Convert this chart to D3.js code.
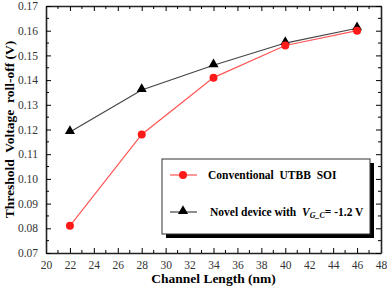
<!DOCTYPE html>
<html lang="en">
<head>
<meta charset="UTF-8">
<title>Threshold Voltage roll-off</title>
<script src="https://d3js.org/d3.v7.min.js"></script>
<style>
  body { margin: 0; background: #fff; }
  text { font-family: "Liberation Serif", "Times New Roman", serif; }
</style>
</head>
<body>
<div id="chart"></div>
<script>
// data
var channelLength = [22, 28, 34, 40, 46];
var conventional = [0.081, 0.118, 0.141, 0.154, 0.160];
var novel = [0.119, 0.136, 0.146, 0.155, 0.161];
var xTicks = [20, 22, 24, 26, 28, 30, 32, 34, 36, 38, 40, 42, 44, 46, 48];
var yTicks = [0.07, 0.08, 0.09, 0.10, 0.11, 0.12, 0.13, 0.14, 0.15, 0.16, 0.17];

var width = 387, height = 289;
var margin = { top: 6, right: 6, bottom: 36, left: 46 };

var svg = d3.select("#chart").append("svg")
    .attr("width", width)
    .attr("height", height);

var x = d3.scaleLinear().domain([20, 48]).range([margin.left, width - margin.right]);
var y = d3.scaleLinear().domain([0.07, 0.17]).range([height - margin.bottom, margin.top]);

// minor ticks every 1 nm and every 0.005 V
var xMinor = d3.range(21, 48, 2);
var yMinor = d3.range(0, 10).map(function(i) { return 0.075 + i * 0.01; });

// axes, ticks pointing inwards
var axBottom = svg.append("g").attr("transform", "translate(0," + y.range()[0] + ")");
axBottom.call(d3.axisBottom(x).tickValues(xTicks).tickSizeInner(-5).tickSizeOuter(0).tickPadding(8).tickFormat(d3.format("d")));
axBottom.selectAll(".minor").data(xMinor).enter().append("line")
    .attr("x1", x).attr("x2", x).attr("y1", 0).attr("y2", -3).attr("stroke", "#000");

var axTop = svg.append("g").attr("transform", "translate(0," + y.range()[1] + ")");
axTop.call(d3.axisTop(x).tickValues(xTicks).tickSizeInner(-5).tickSizeOuter(0).tickFormat(""));
axTop.selectAll(".minor").data(xMinor).enter().append("line")
    .attr("x1", x).attr("x2", x).attr("y1", 0).attr("y2", 3).attr("stroke", "#000");

var axLeft = svg.append("g").attr("transform", "translate(" + x.range()[0] + ",0)");
axLeft.call(d3.axisLeft(y).tickValues(yTicks).tickSizeInner(-5).tickSizeOuter(0).tickPadding(8).tickFormat(d3.format(".2f")));
axLeft.selectAll(".minor").data(yMinor).enter().append("line")
    .attr("y1", y).attr("y2", y).attr("x1", 0).attr("x2", 3).attr("stroke", "#000");

var axRight = svg.append("g").attr("transform", "translate(" + x.range()[1] + ",0)");
axRight.call(d3.axisRight(y).tickValues(yTicks).tickSizeInner(-5).tickSizeOuter(0).tickFormat(""));
axRight.selectAll(".minor").data(yMinor).enter().append("line")
    .attr("y1", y).attr("y2", y).attr("x1", 0).attr("x2", -3).attr("stroke", "#000");

svg.selectAll(".domain").attr("stroke", "#222").attr("stroke-width", 1.6);
svg.selectAll(".tick text")
    .style("font-family", "'Liberation Serif', 'DejaVu Serif', serif")
    .style("font-size", "11.5px")
    .attr("fill", "#333");

// axis titles
svg.append("text")
    .attr("x", (x.range()[0] + x.range()[1]) / 2)
    .attr("y", 283)
    .attr("text-anchor", "middle")
    .attr("font-weight", "bold")
    .attr("font-size", 13.5)
    .text("Channel Length (nm)");

svg.append("text")
    .attr("transform", "translate(14," + ((y.range()[0] + y.range()[1]) / 2) + ") rotate(-90)")
    .attr("text-anchor", "middle")
    .attr("font-weight", "bold")
    .attr("font-size", 13.5)
    .style("white-space", "pre")
    .text("Threshold  Voltage  roll-off (V)");

// series
var line = d3.line()
    .x(function(d) { return x(d[0]); })
    .y(function(d) { return y(d[1]); });

var convData = channelLength.map(function(c, i) { return [c, conventional[i]]; });
var novelData = channelLength.map(function(c, i) { return [c, novel[i]]; });

var tri = d3.symbol().type(d3.symbolTriangle).size(44);

svg.append("path").datum(novelData).attr("d", line)
    .attr("fill", "none").attr("stroke", "#444").attr("stroke-width", 1.2);
svg.selectAll(".tri").data(novelData).enter().append("path")
    .attr("d", tri)
    .attr("transform", function(d) { return "translate(" + x(d[0]) + "," + (y(d[1]) - 1) + ")"; })
    .attr("fill", "#000");

svg.append("path").datum(convData).attr("d", line)
    .attr("fill", "none").attr("stroke", "#ff5555").attr("stroke-width", 1.2);
svg.selectAll(".dot").data(convData).enter().append("circle")
    .attr("cx", function(d) { return x(d[0]); })
    .attr("cy", function(d) { return y(d[1]); })
    .attr("r", 4)
    .attr("fill", "#ff1a1a");

// legend
var lg = svg.append("g");
lg.append("rect").attr("x", 166).attr("y", 163).attr("width", 208).attr("height", 75).attr("fill", "#000");
lg.append("rect").attr("x", 162).attr("y", 159).attr("width", 208).attr("height", 75)
    .attr("fill", "#fff").attr("stroke", "#333").attr("stroke-width", 1);

lg.append("line").attr("x1", 170).attr("x2", 197).attr("y1", 175).attr("y2", 175)
    .attr("stroke", "#ff5555").attr("stroke-width", 1.2);
lg.append("circle").attr("cx", 183).attr("cy", 175).attr("r", 4).attr("fill", "#ff1a1a");
lg.append("text").attr("x", 208).attr("y", 179).attr("font-weight", "bold").attr("font-size", 11.5)
    .style("white-space", "pre").text("Conventional  UTBB  SOI");

lg.append("line").attr("x1", 170).attr("x2", 197).attr("y1", 212).attr("y2", 212)
    .attr("stroke", "#444").attr("stroke-width", 1.2);
lg.append("path").attr("d", tri).attr("transform", "translate(183,211)").attr("fill", "#000");
var t2 = lg.append("text").attr("x", 210).attr("y", 216).attr("font-weight", "bold").attr("font-size", 11.5)
    .style("white-space", "pre");
t2.append("tspan").text("Novel device with  ");
t2.append("tspan").attr("font-style", "italic").text("V");
t2.append("tspan").attr("font-style", "italic").attr("font-size", 8).attr("dy", 2).text("G_C");
t2.append("tspan").attr("dy", -2).text("= -1.2 V");
</script>
</body>
</html>
